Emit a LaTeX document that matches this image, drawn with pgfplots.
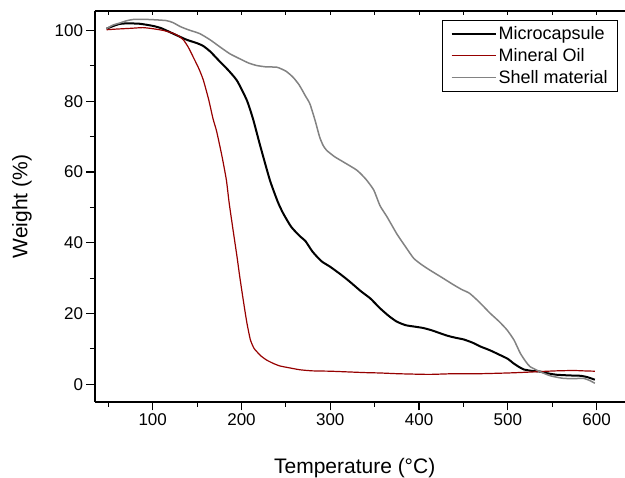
\documentclass[border=0pt]{standalone}
\usepackage{pgfplots}
\pgfplotsset{compat=1.18}
\usepackage{fontspec}
\setmainfont{Liberation Sans}

\definecolor{oilred}{RGB}{150,0,0}
\definecolor{shellgray}{RGB}{130,130,130}

\begin{document}
\begin{tikzpicture}
\begin{axis}[
    scale only axis,
    width=530pt, height=391pt,
    xmin=35, xmax=632,
    ymin=-5, ymax=105.5,
    axis x line*=bottom, axis y line*=left,
    axis line style={line width=1.3pt, -},
    xtick={100,200,...,600},
    minor xtick={50,150,...,550},
    ytick={0,20,...,100},
    minor ytick={10,30,...,90},
    tick align=outside,
    major tick length=8.5pt, minor tick length=5pt,
    every tick/.style={black, line width=1.1pt},
    /pgf/number format/assume math mode=true,
    tick label style={font=\fontsize{17}{20}\selectfont},
    xlabel={Temperature (°C)},
    ylabel={Weight (\%)},
    label style={font=\fontsize{21}{24}\selectfont},
    xlabel style={at={([yshift=-72pt]axis description cs:0.49,0)}, anchor=base},
    ylabel style={at={([xshift=-73pt]axis description cs:0,0.5)}, anchor=center, rotate=0},
    legend style={at={(1,1)}, anchor=north east, xshift=-7pt, yshift=-9pt,
        font=\fontsize{18}{22}\selectfont, draw=black, line width=0.8pt,
        inner xsep=8pt, inner ysep=4pt, row sep=3.5pt},
    legend cell align=left,
    legend image code/.code={\draw[#1] (0pt,0pt) -- (44pt,0pt);},
    every axis plot/.append style={smooth, tension=0.35},
]
\addplot[black, line width=2pt] coordinates {
(48,100.5) (55,101.2) (62,101.8) (70,102.0) (85,101.9) (100,101.3) (110,100.6)
(123,99.1) (138,97.4) (150,96.4) (157,95.6) (165,94.0) (176,91.1) (185,88.8)
(195,85.8) (206,80.3) (213,75.0) (221,67.5) (232,57.7) (241,51.5) (247,48.3)
(256,44.5) (266,41.8) (272,40.5) (280,37.5) (290,34.8) (300,33.2) (312,31.0)
(322,29.0) (335,26.2) (345,24.3) (356,21.5) (366,19.3) (375,17.7) (385,16.7)
(395,16.3) (405,15.9) (415,15.2) (431,13.8) (442,13.1) (450,12.7) (460,11.8)
(469,10.7) (480,9.6) (491,8.3) (500,7.2) (506,6.0) (512,5.0) (518,4.2)
(527,3.8) (536,3.6) (545,3.1) (555,2.7) (570,2.5) (582,2.4) (590,2.0) (598,1.3)
};
\addlegendentry{Microcapsule}
\addplot[draw=oilred, line width=1.2pt,
    legend image post style={draw=oilred, line width=1.4pt}] coordinates {
(48,100.2) (60,100.4) (75,100.6) (89,100.8) (100,100.5) (112,100.0) (123,99.2)
(130,98.3) (135,97.2) (140,95.3) (146,92.3) (152,89.2) (157,86.0) (163,80.5)
(168,75.0) (172,71.5) (178,64.5) (183,57.7) (186,51.5) (190,44.5) (195,36.0)
(198,30.5) (202,23.8) (206,17.5) (210,12.6) (214,10.2) (217,9.3) (222,8.0)
(228,6.9) (235,6.0) (243,5.2) (255,4.6) (266,4.1) (280,3.8) (300,3.7)
(320,3.5) (340,3.3) (356,3.2) (375,3.0) (390,2.9) (412,2.8) (440,3.0)
(469,3.0) (500,3.2) (520,3.4) (536,3.6) (555,3.8) (574,3.9) (585,3.8) (598,3.7)
};
\addlegendentry{Mineral Oil}
\addplot[draw=shellgray, line width=1.5pt] coordinates {
(48,100.5) (55,101.5) (63,102.1) (70,102.7) (78,103.1) (95,103.1) (115,102.8)
(123,102.2) (131,101.1) (140,100.2) (153,99.1) (165,97.3) (176,95.3) (187,93.4)
(198,92.0) (208,90.8) (217,90.1) (228,89.7) (240,89.6) (250,88.5) (258,86.8)
(265,84.6) (272,81.5) (277,79.3) (283,74.5) (288,69.9) (292,67.5) (296,66.1)
(305,64.3) (315,62.8) (330,60.5) (340,58.0) (349,54.9) (356,50.5) (364,47.3)
(375,42.5) (385,38.8) (394,35.6) (403,33.8) (412,32.3) (425,30.3) (439,28.1)
(448,26.8) (457,25.7) (468,23.2) (480,20.1) (490,17.8) (499,15.4) (507,12.5)
(514,8.8) (520,6.5) (525,5.0) (536,3.6) (548,2.4) (562,1.7) (575,1.6)
(585,1.7) (592,1.1) (598,0.3)
};
\addlegendentry{Shell material}
\end{axis}
\begin{axis}[
    scale only axis,
    width=530pt, height=391pt,
    xmin=35, xmax=632,
    ymin=-5, ymax=105.5,
    axis x line*=top, hide y axis,
    axis line style={line width=1.3pt, -},
    xtick={100,200,...,600},
    minor xtick={50,150,...,550},
    xticklabels={},
    tick align=inside,
    major tick length=4.5pt, minor tick length=4.5pt,
    every tick/.style={black, line width=1pt},
]
\end{axis}
\pgfresetboundingbox
\path (-95pt,-76pt) rectangle (530pt,402pt);
\end{tikzpicture}
\end{document}
